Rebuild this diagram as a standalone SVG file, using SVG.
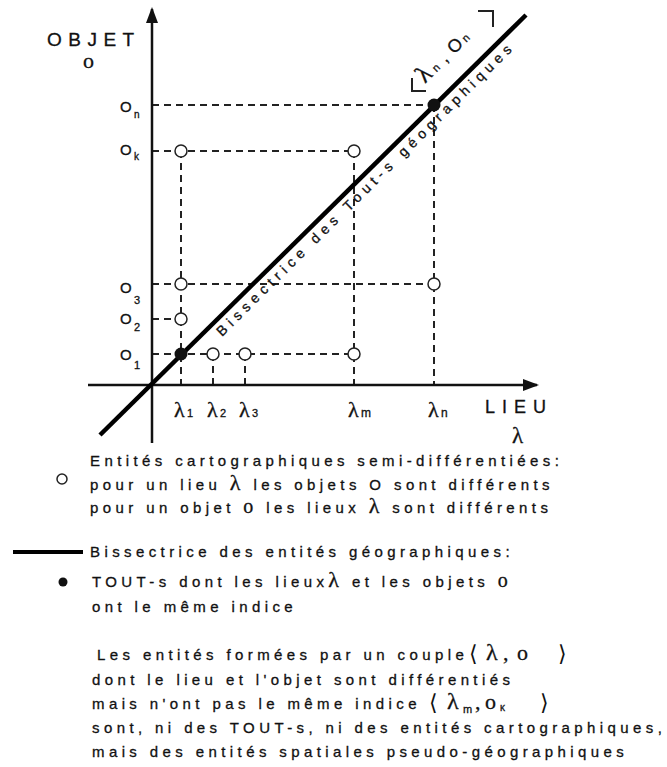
<svg xmlns="http://www.w3.org/2000/svg" width="667" height="767" viewBox="0 0 667 767">
<style>
text{font-family:"Liberation Sans",Arial,sans-serif;fill:#111;stroke:#111;stroke-width:0.3}
.t{font-size:15px;letter-spacing:4.4px}
.sf{font-family:"Liberation Serif","Times New Roman",serif}
.br{font-family:"DejaVu Sans",sans-serif;font-size:22px;stroke-width:0}
.ax{stroke:#111;stroke-width:2.5;fill:none}
.dash{stroke:#222;stroke-width:2;stroke-dasharray:7 5;fill:none}
.oc{fill:#fff;stroke:#222;stroke-width:1.5}
.fc{fill:#111}
</style>
<defs>
<marker id="arr" markerWidth="16" markerHeight="12" refX="14" refY="6" orient="auto" markerUnits="userSpaceOnUse">
<path d="M0,0 L16,6 L0,12 z" fill="#111"/>
</marker>
</defs>
<rect width="667" height="767" fill="#fff"/>
<g id="connectors">
<line class="dash" x1="152" y1="105" x2="434" y2="105"/>
<line class="dash" x1="152" y1="151" x2="354" y2="151"/>
<line class="dash" x1="152" y1="284" x2="434" y2="284"/>
<line class="dash" x1="152" y1="319" x2="181" y2="319"/>
<line class="dash" x1="152" y1="354" x2="354" y2="354"/>
<line class="dash" x1="181" y1="151" x2="181" y2="385"/>
<line class="dash" x1="213" y1="354" x2="213" y2="385"/>
<line class="dash" x1="245" y1="354" x2="245" y2="385"/>
<line class="dash" x1="354" y1="151" x2="354" y2="385"/>
<line class="dash" x1="434" y1="105" x2="434" y2="385"/>
<line class="ax" x1="152" y1="443" x2="152" y2="9" marker-end="url(#arr)"/>
<line class="ax" x1="88" y1="385" x2="537" y2="385" marker-end="url(#arr)"/>
<line x1="100" y1="435" x2="526" y2="15" stroke="#000" stroke-width="4.5"/>
</g>
<g id="axis-labels">
<text x="47" y="46" font-size="19" letter-spacing="6.5">OBJET</text>
<text class="sf" x="83" y="68" font-size="22">o</text>
<text x="485" y="413" font-size="18" letter-spacing="7">LIEU</text>
<text class="sf" x="512" y="443" font-size="23">λ</text>
<text x="120" y="112" font-size="15">O</text><text x="134" y="118" font-size="10">n</text>
<text x="120" y="155" font-size="15">O</text><text x="134" y="160" font-size="10">k</text>
<text x="120" y="293" font-size="15">O</text><text x="134" y="304" font-size="11">3</text>
<text x="120" y="324" font-size="15">O</text><text x="134" y="331" font-size="11">2</text>
<text x="120" y="360" font-size="15">O</text><text x="134" y="369" font-size="11">1</text>
<text class="sf" x="174" y="417" font-size="22">λ</text><text x="187" y="417" font-size="11">1</text>
<text class="sf" x="207" y="417" font-size="22">λ</text><text x="220" y="417" font-size="11">2</text>
<text class="sf" x="239" y="417" font-size="22">λ</text><text x="252" y="417" font-size="11">3</text>
<text class="sf" x="348" y="417" font-size="22">λ</text><text x="361" y="417" font-size="12">m</text>
<text class="sf" x="428" y="417" font-size="22">λ</text><text x="441" y="417" font-size="12">n</text>
</g>
<g id="bisector-label">
<text transform="translate(222,337) rotate(-44.6)" font-size="14" textLength="408" lengthAdjust="spacing">Bissectrice des Tout-s géographiques</text>
</g>
<g id="point-label">
<polyline points="412,78 412,91 426,91" fill="none" stroke="#222" stroke-width="2"/>
<polyline points="478,11 493,11 493,27" fill="none" stroke="#222" stroke-width="2"/>
<text transform="translate(425,84) rotate(-45)" font-size="14"><tspan class="sf" font-size="25">λ</tspan><tspan font-size="11" dx="4">n</tspan><tspan font-size="18" dx="7">,</tspan><tspan font-size="18" dx="7">O</tspan><tspan font-size="11" dx="3">n</tspan></text>
</g>
<g id="points">
<circle class="oc" cx="181" cy="151" r="6"/>
<circle class="oc" cx="354" cy="151" r="6"/>
<circle class="oc" cx="181" cy="284" r="6"/>
<circle class="oc" cx="434" cy="284" r="6"/>
<circle class="oc" cx="181" cy="319" r="6"/>
<circle class="oc" cx="213" cy="354" r="6"/>
<circle class="oc" cx="245" cy="354" r="6"/>
<circle class="oc" cx="354" cy="354" r="6"/>
<circle class="fc" cx="181" cy="354" r="6.5"/>
<circle class="fc" cx="434" cy="105" r="6.5"/>
</g>
<g id="legend">
<circle class="oc" cx="62" cy="479" r="5" stroke-width="1.2"/>
<text class="t" x="90" y="466">Entités cartographiques semi-différentiées:</text>
<text class="t" x="90" y="490">pour un lieu <tspan class="sf" font-size="22">λ</tspan> les objets O sont différents</text>
<text class="t" x="90" y="513">pour un objet <tspan class="sf" font-size="20">o</tspan> les lieux <tspan class="sf" font-size="22">λ</tspan> sont différents</text>
<line x1="13" y1="552" x2="83" y2="552" stroke="#000" stroke-width="4"/>
<text class="t" x="90" y="557">Bissectrice des entités géographiques:</text>
<circle class="fc" cx="63" cy="582" r="4.5"/>
<text class="t" x="92" y="587">TOUT-s dont les lieux<tspan class="sf" font-size="22">λ</tspan> et les objets <tspan class="sf" font-size="20">o</tspan></text>
<text class="t" x="92" y="612">ont le même indice</text>
<text class="t" x="97" y="660">Les entités formées par un couple<tspan class="br" x="469" dy="1">⟨</tspan><tspan class="sf" font-size="24" x="486" dy="-1">λ</tspan><tspan class="sf" font-size="22" x="503">,</tspan><tspan class="sf" font-size="22" x="517">o</tspan><tspan class="br" x="558" dy="1">⟩</tspan></text>
<text class="t" x="92" y="685">dont le lieu et l'objet sont différentiés</text>
<text class="t" x="92" y="709">mais n'ont pas le même indice<tspan class="br" x="429" dy="1">⟨</tspan><tspan class="sf" font-size="24" x="447" dy="-1">λ</tspan><tspan font-size="11" letter-spacing="0" x="463" dy="4">m</tspan><tspan class="sf" font-size="22" x="475" dy="-4">,</tspan><tspan class="sf" font-size="22" x="485">o</tspan><tspan font-size="10" letter-spacing="0" x="500" dy="2">κ</tspan><tspan class="br" x="540" dy="-1">⟩</tspan></text>
<text class="t" x="92" y="733">sont, ni des TOUT-s, ni des entités cartographiques,</text>
<text class="t" x="92" y="757">mais des entités spatiales pseudo-géographiques</text>
</g>
</svg>
